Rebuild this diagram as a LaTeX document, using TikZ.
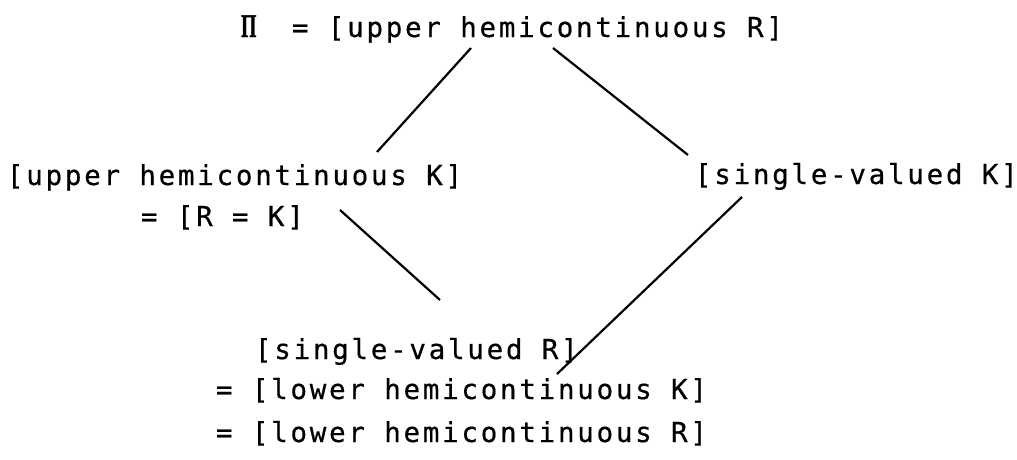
\documentclass[tikz,border=0pt]{standalone}
\usepackage{fontspec}
\usepackage{graphicx}
% Typewriter-like lettering with wide character pitch
\newfontfamily\typed[LetterSpace=10,FakeBold=0.5]{DejaVu Sans Mono}
\newfontfamily\serifsym[FakeBold=1]{Liberation Serif}
\begin{document}
\begin{tikzpicture}[x=1pt,y=-1pt,
  every node/.style={inner sep=0pt,outer sep=0pt},
  txt/.style={anchor=base west,font=\typed\fontsize{27.5}{30}\selectfont},
  link/.style={line width=2.2pt,line cap=butt}]
\fill[white] (0,0) rectangle (1017,459);
\useasboundingbox (0,0) rectangle (1017,459);

% top class
\node[txt] (pi)  at (241,37) {\serifsym\bfseries\scalebox{0.72}[1.2]{Π}};
\node[txt] (top) at (292,37) {= [upper hemicontinuous R]};

% middle row
\node[txt] (uhk)  at (7,185)   {[upper hemicontinuous K]};
\node[txt] (rk)   at (141,226) {= [R = K]};
\node[txt] (svk)  at (695,184) {[single-valued K]};

% bottom class
\node[txt] (svr)  at (255,359) {[single-valued R]};
\node[txt] (lhk)  at (216,399) {= [lower hemicontinuous K]};
\node[txt] (lhr)  at (216,442) {= [lower hemicontinuous R]};

% end points of the connecting lines
\coordinate (a1) at (471,48);
\coordinate (a2) at (377,152);
\coordinate (b1) at (553,48);
\coordinate (b2) at (688,155);
\coordinate (c1) at (340,210);
\coordinate (c2) at (440,300);
\coordinate (d1) at (742,197);
\coordinate (d2) at (557,374);

\draw[link] (a1) -- (a2);
\draw[link] (b1) -- (b2);
\draw[link] (c1) -- (c2);
\draw[link] (d1) -- (d2);
\end{tikzpicture}
\end{document}
